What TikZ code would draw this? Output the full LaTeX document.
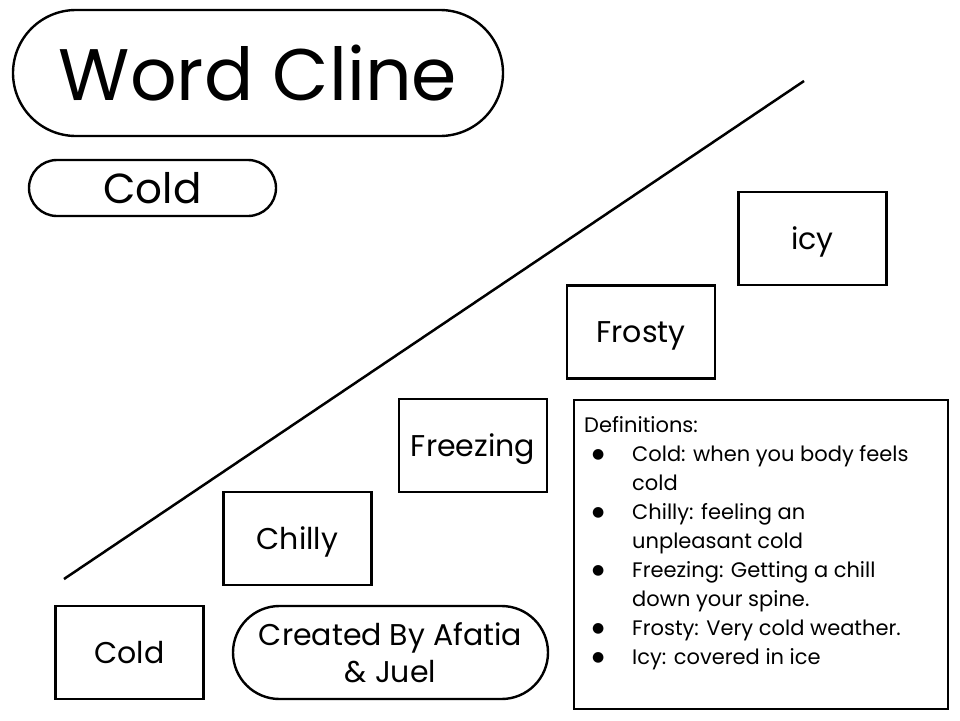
\documentclass[tikz,border=0pt]{standalone}
\usepackage{fontspec}
\setmainfont{Poppins}
\newfontfamily\dotfont{DejaVu Sans}
\usetikzlibrary{positioning, shapes, calc}

\begin{document}
\begin{tikzpicture}[
    x=1pt, y=-1pt,
    wordbox/.style={draw, line width=2.6pt, minimum width=148pt, minimum height=93pt, inner sep=0pt,
        text height=21pt, text depth=0pt, font=\fontsize{30}{34}\selectfont},
    pill/.style={draw, line width=2.4pt, inner sep=0pt, align=center}
]
\useasboundingbox (0,0) rectangle (960,720);

% Title and topic
\node[pill, minimum width=490pt, minimum height=126pt, rounded corners=63pt,
    font=\fontsize{73}{80}\selectfont] (title) at (258,73) {Word Cline};
\node[pill, minimum width=247pt, minimum height=56pt, rounded corners=28pt,
    font=\fontsize{42}{48}\selectfont] (topic) at (152.5,188) {Cold};

% The cline itself
\coordinate (low) at (64,579);
\coordinate (high) at (804,81);
\draw[line width=2.5pt] (low) -- (high);

% Words, from least to most cold
\foreach \word/\cx/\cy in {Cold/129.5/652.5, Chilly/297.5/538.5, Freezing/473/445.5, Frosty/641/332, icy/812.5/238.5} {
    \node[wordbox] (w\word) at (\cx,\cy) {\word};
}

% Authors
\node[pill, minimum width=315pt, minimum height=93pt, rounded corners=46.5pt,
    font=\fontsize{30}{37}\selectfont] (authors) at (390.5,652.5) {Created By Afatia\\ \& Juel};

% Definitions
\def\bul{\hspace{8pt}\raisebox{3pt}{\dotfont\fontsize{14}{29}\selectfont ●}}
\node[draw, line width=2.6pt, minimum width=374pt, minimum height=309pt] (defbox) at (761,554.5) {};
\node[anchor=north west, inner sep=0pt, font=\fontsize{21}{29}\selectfont] (defs) at (584,412) {%
    \begin{tabular}{@{}p{48pt}@{}l@{}}
    \multicolumn{2}{@{}l@{}}{Definitions:}\\
    \bul & Cold: when you body feels\\
         & cold\\
    \bul & Chilly: feeling an\\
         & unpleasant cold\\
    \bul & Freezing: Getting a chill\\
         & down your spine.\\
    \bul & Frosty: Very cold weather.\\
    \bul & Icy: covered in ice
    \end{tabular}};

\end{tikzpicture}
\end{document}
